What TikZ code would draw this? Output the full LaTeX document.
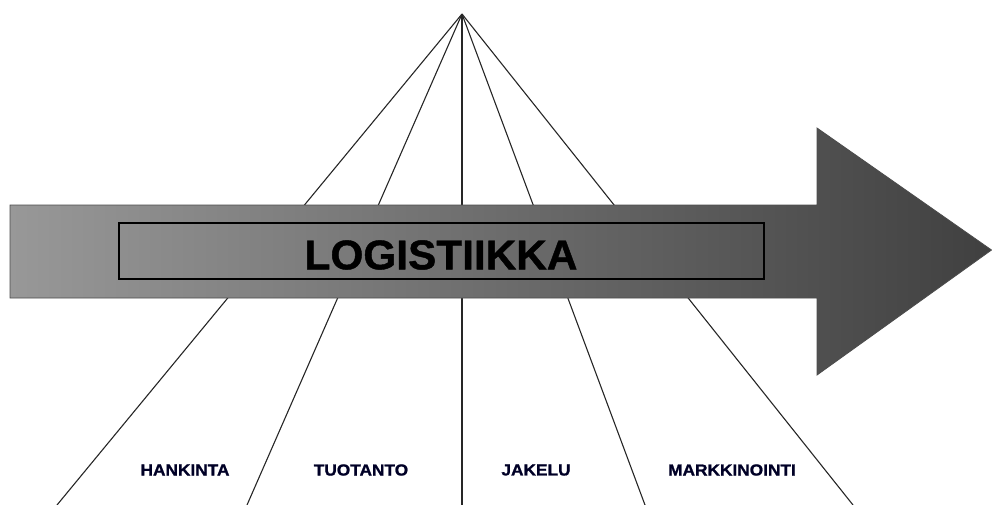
\documentclass[tikz,border=0pt]{standalone}
\usepackage{fontspec}
\setmainfont{Liberation Sans}
\newfontfamily\heavyfont{Liberation Sans Bold}[FakeBold=1.2, FakeStretch=1.08]
\newfontfamily\titlefont{Liberation Sans Bold}[FakeBold=1.0, FakeStretch=1.02]
\definecolor{arrowL}{RGB}{152,152,152}
\definecolor{arrowM}{RGB}{124,124,124}
\definecolor{arrowR}{RGB}{64,64,64}
\begin{document}
\begin{tikzpicture}[x=1pt,y=-1pt,
  ray/.style={line width=1.1pt, black!85},
  lab/.style={font=\heavyfont\fontsize{16}{16}\selectfont, text=black!85!blue, inner sep=0pt},
  bigarrow/.style={left color=arrowL, middle color=arrowM, right color=arrowR, draw=black!70, line width=0.8pt},
  framebox/.style={draw=black, line width=1.4pt, inner sep=0pt, minimum width=645pt, minimum height=56pt},
  title/.style={font=\titlefont\fontsize{41.5}{41.5}\selectfont, text=black, inner sep=0pt}]
\useasboundingbox (0,0) rectangle (992,504);
\coordinate (apex) at (462,14);
\coordinate (b1) at (57,505);
\coordinate (b2) at (247,505);
\coordinate (b3) at (462,505);
\coordinate (b4) at (645,505);
\coordinate (b5) at (853,505);
\draw[ray] (apex) -- (b1);
\draw[ray] (apex) -- (b2);
\draw[ray, line width=1.6pt] (apex) -- (b3);
\draw[ray] (apex) -- (b4);
\draw[ray] (apex) -- (b5);
\draw[bigarrow] (10,205) -- (817,205) -- (817,128) -- (991.5,250) -- (817,375) -- (817,298) -- (10,298) -- cycle;
\node[framebox] (box) at (441.5,251) {};
\node[title] (logi) at (441,255) {LOGISTIIKKA};
\node[lab] (l1) at (185,470) {HANKINTA};
\node[lab] (l2) at (361,470) {TUOTANTO};
\node[lab] (l3) at (536,470) {JAKELU};
\node[lab] (l4) at (732,470) {MARKKINOINTI};
\end{tikzpicture}
\end{document}
